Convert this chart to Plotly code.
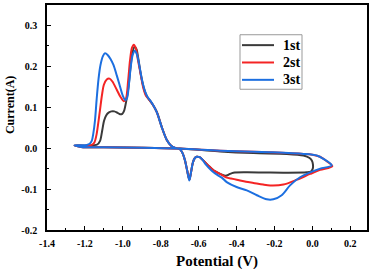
import plotly.graph_objects as go

# ---- data (potential in V, current in A) ----
potential_1st = [-1.255, -1.18, -1.135, -1.12, -1.11, -1.099, -1.088, -1.075, -1.06, -1.045, -1.03, -1.015, -1.003,
                 -0.993, -0.982, -0.971, -0.96, -0.95, -0.938, -0.928, -0.918, -0.905, -0.89, -0.875, -0.86, -0.84,
                 -0.82, -0.795, -0.768, -0.745, -0.72, -0.70, -0.685, -0.672, -0.66, -0.649, -0.64, -0.632, -0.623,
                 -0.61, -0.595, -0.58, -0.55, -0.52, -0.487, -0.465, -0.452, -0.435, -0.417, -0.35, -0.25, -0.135,
                 -0.03, -0.008, 0.002, 0.003, -0.003, -0.015, -0.047, -0.135, -0.311, -0.487, -0.60, -0.70, -0.9,
                 -1.1, -1.22, -1.255]
current_1st = [0.007, 0.006, 0.009, 0.018, 0.040, 0.067, 0.080, 0.087, 0.090, 0.090, 0.087, 0.083, 0.084,
               0.092, 0.115, 0.147, 0.195, 0.232, 0.248, 0.242, 0.218, 0.180, 0.148, 0.128, 0.118, 0.105,
               0.088, 0.052, 0.020, 0.006, 0.000, -0.002, -0.012, -0.030, -0.056, -0.077, -0.058, -0.038, -0.026,
               -0.021, -0.022, -0.028, -0.042, -0.055, -0.063, -0.067, -0.067, -0.063, -0.060, -0.059, -0.0595, -0.060,
               -0.059, -0.057, -0.050, -0.040, -0.030, -0.024, -0.018, -0.014, -0.012, -0.008, -0.004, -0.001, 0.001,
               0.002, 0.003, 0.007]

potential_2nd = [-1.255, -1.2, -1.165, -1.15, -1.138, -1.128, -1.12, -1.11, -1.1, -1.085, -1.07, -1.055, -1.032,
                 -1.012, -0.995, -0.984, -0.972, -0.962, -0.952, -0.942, -0.932, -0.92, -0.905, -0.892, -0.878,
                 -0.862, -0.84, -0.82, -0.795, -0.768, -0.745, -0.72, -0.70, -0.685, -0.672, -0.66, -0.649, -0.64,
                 -0.632, -0.623, -0.61, -0.595, -0.58, -0.55, -0.52, -0.487, -0.465, -0.452, -0.43, -0.399, -0.35,
                 -0.311, -0.26, -0.223, -0.153, -0.082, -0.012, 0.041, 0.105, 0.076, 0.04, 0.0, -0.047, -0.223,
                 -0.487, -0.70, -0.9, -1.1, -1.22, -1.255]
current_2nd = [0.007, 0.006, 0.008, 0.014, 0.035, 0.067, 0.095, 0.130, 0.155, 0.168, 0.170, 0.163, 0.143,
               0.125, 0.115, 0.120, 0.165, 0.215, 0.245, 0.253, 0.245, 0.215, 0.178, 0.147, 0.128,
               0.119, 0.105, 0.087, 0.052, 0.020, 0.006, 0.000, -0.002, -0.012, -0.030, -0.056, -0.077, -0.058,
               -0.038, -0.026, -0.021, -0.022, -0.028, -0.042, -0.055, -0.063, -0.069, -0.072, -0.074, -0.077, -0.082,
               -0.085, -0.089, -0.091, -0.089, -0.077, -0.063, -0.053, -0.044, -0.032, -0.021, -0.016, -0.014, -0.010,
               -0.006, -0.001, 0.001, 0.002, 0.003, 0.007]

potential_3rd = [-1.255, -1.22, -1.19, -1.175, -1.164, -1.156, -1.147, -1.138, -1.128, -1.118, -1.105, -1.094,
                 -1.08, -1.065, -1.05, -1.032, -1.015, -1.0, -0.988, -0.978, -0.968, -0.958, -0.948, -0.936,
                 -0.925, -0.912, -0.898, -0.883, -0.868, -0.856, -0.838, -0.82, -0.795, -0.768, -0.745, -0.72,
                 -0.70, -0.685, -0.672, -0.66, -0.649, -0.64, -0.632, -0.623, -0.61, -0.595, -0.58, -0.566, -0.531,
                 -0.50, -0.478, -0.452, -0.40, -0.346, -0.293, -0.241, -0.206, -0.162, -0.118, -0.065, -0.012,
                 0.041, 0.102, 0.058, 0.023, -0.047, -0.223, -0.487, -0.70, -0.9, -1.1, -1.22, -1.255]
current_3rd = [0.007, 0.007, 0.008, 0.011, 0.018, 0.035, 0.067, 0.120, 0.170, 0.203, 0.225, 0.232,
               0.228, 0.218, 0.204, 0.178, 0.151, 0.128, 0.118, 0.122, 0.155, 0.200, 0.228, 0.238,
               0.228, 0.200, 0.165, 0.139, 0.124, 0.117, 0.104, 0.087, 0.052, 0.020, 0.006, 0.000,
               -0.002, -0.012, -0.030, -0.056, -0.079, -0.058, -0.038, -0.026, -0.021, -0.022, -0.028, -0.038, -0.055,
               -0.066, -0.072, -0.083, -0.095, -0.103, -0.115, -0.125, -0.125, -0.115, -0.091, -0.071, -0.059,
               -0.050, -0.042, -0.026, -0.018, -0.014, -0.010, -0.006, -0.001, 0.001, 0.002, 0.003, 0.007]

series_names = ["1st", "2st", "3st"]
series_colors = ["#3a3a3a", "#f42424", "#1c6fe0"]

x_tick_vals = [-1.4, -1.2, -1.0, -0.8, -0.6, -0.4, -0.2, 0.0, 0.2]
y_tick_vals = [-0.2, -0.1, 0.0, 0.1, 0.2, 0.3]

FONT = "Liberation Serif"
W, H = 373, 269
ML, MR, MT, MB = 47, 6, 3, 39
PW, PH = W - ML - MR, H - MT - MB


def px(x):
    return (x - ML) / PW


def py(y):
    return (H - MB - y) / PH


fig = go.Figure()
for name, color, xs, ys in zip(series_names, series_colors,
                               [potential_1st, potential_2nd, potential_3rd],
                               [current_1st, current_2nd, current_3rd]):
    fig.add_trace(go.Scatter(x=xs, y=ys, mode="lines", name=name, showlegend=False,
                             line=dict(color=color, width=2, shape="spline", smoothing=0.8)))

axis_common = dict(
    showline=True, linecolor="black", linewidth=1.6, mirror=True,
    showgrid=False, zeroline=False,
    ticks="inside", ticklen=4, tickwidth=1.2, tickcolor="black",
    tickfont=dict(family=FONT, size=10, color="black", weight="bold"),
)

fig.update_xaxes(range=[-1.4, 0.288], tickvals=x_tick_vals,
                 ticktext=[f"{v:.1f}" for v in x_tick_vals],
                 minor=dict(ticks="inside", ticklen=2, tickwidth=1, tickcolor="black", dtick=0.1, tick0=0),
                 ticklabelstandoff=3, **axis_common)
fig.update_yaxes(range=[-0.2, 0.35], tickvals=y_tick_vals,
                 ticktext=[f"{v:.1f}" for v in y_tick_vals],
                 minor=dict(ticks="inside", ticklen=2, tickwidth=1, tickcolor="black", dtick=0.05, tick0=0),
                 ticklabelstandoff=6, **axis_common)

fig.add_annotation(text="Potential (V)", xref="paper", yref="paper", x=px(217), y=py(262),
                   xanchor="center", yanchor="middle", showarrow=False,
                   font=dict(family=FONT, size=15, color="black", weight="bold"))
fig.add_annotation(text="Current(A)", xref="paper", yref="paper", x=px(10), y=py(104),
                   xanchor="center", yanchor="middle", showarrow=False, textangle=-90,
                   font=dict(family=FONT, size=12, color="black", weight="bold"))

# legend box (drawn as a framed key)
fig.add_shape(type="rect", xref="paper", yref="paper", x0=px(240), x1=px(302), y0=py(33), y1=py(88),
              line=dict(color="#999999", width=1), fillcolor="white", layer="above")
legend_rows = [43.5, 61, 78.5]
for name, color, row in zip(series_names, series_colors, legend_rows):
    fig.add_shape(type="line", xref="paper", yref="paper", x0=px(242), x1=px(274), y0=py(row), y1=py(row),
                  line=dict(color=color, width=2), layer="above")
    fig.add_annotation(text=name, xref="paper", yref="paper", x=px(281), y=py(row),
                       xanchor="left", yanchor="middle", showarrow=False,
                       font=dict(family=FONT, size=14, color="black", weight="bold"))

fig.update_layout(
    width=W, height=H,
    margin=dict(l=ML, r=MR, t=MT, b=MB),
    paper_bgcolor="white", plot_bgcolor="white",
    showlegend=False,
)

fig.write_html("out.html", config={"displayModeBar": False},
               post_script=["document.body.style.margin='0';document.body.style.overflow='hidden';"])
